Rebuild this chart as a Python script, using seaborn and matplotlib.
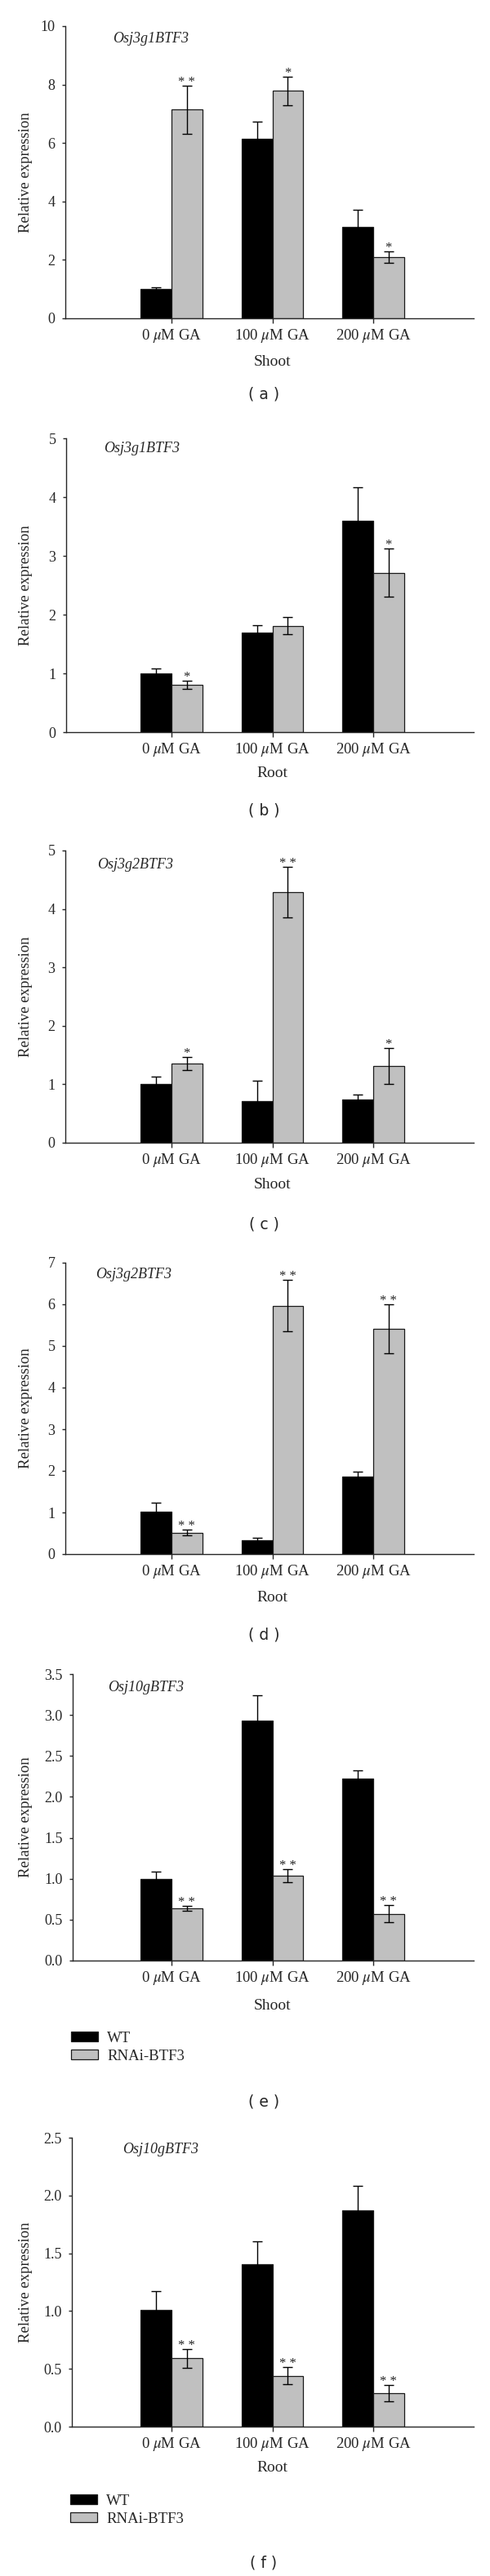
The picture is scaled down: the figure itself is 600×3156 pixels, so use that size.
import numpy as np
import pandas as pd
import matplotlib
matplotlib.use("Agg")
import matplotlib.pyplot as plt
import matplotlib.transforms as mtransforms
from matplotlib.patches import Patch
import seaborn as sns

# ---- data ----
doses = ["0 $\\mu$M GA", "100 $\\mu$M GA", "200 $\\mu$M GA"]
genotypes = ["WT", "RNAi-BTF3"]
genes = ["Osj3g1BTF3", "Osj3g1BTF3", "Osj3g2BTF3", "Osj3g2BTF3", "Osj10gBTF3", "Osj10gBTF3"]
tissues = ["Shoot", "Root", "Shoot", "Root", "Shoot", "Root"]
panel_tags = ["( a )", "( b )", "( c )", "( d )", "( e )", "( f )"]

a_wt = [1.0, 6.14, 3.12]
a_wt_err = [0.07, 0.6, 0.6]
a_rnai = [7.14, 7.78, 2.1]
a_rnai_err = [0.83, 0.5, 0.2]
a_sig = ["* *", "*", "*"]

b_wt = [1.0, 1.69, 3.6]
b_wt_err = [0.08, 0.13, 0.57]
b_rnai = [0.8, 1.81, 2.71]
b_rnai_err = [0.07, 0.15, 0.41]
b_sig = ["*", "", "*"]

c_wt = [1.01, 0.71, 0.74]
c_wt_err = [0.12, 0.35, 0.09]
c_rnai = [1.36, 4.29, 1.31]
c_rnai_err = [0.11, 0.43, 0.31]
c_sig = ["*", "* *", "*"]

d_wt = [1.01, 0.33, 1.87]
d_wt_err = [0.22, 0.07, 0.12]
d_rnai = [0.515, 5.97, 5.41]
d_rnai_err = [0.065, 0.61, 0.59]
d_sig = ["* *", "* *", "* *"]

e_wt = [1.0, 2.93, 2.22]
e_wt_err = [0.085, 0.31, 0.1]
e_rnai = [0.64, 1.04, 0.57]
e_rnai_err = [0.03, 0.08, 0.105]
e_sig = ["* *", "* *", "* *"]

f_wt = [1.01, 1.405, 1.87]
f_wt_err = [0.16, 0.2, 0.21]
f_rnai = [0.59, 0.44, 0.29]
f_rnai_err = [0.08, 0.075, 0.07]
f_sig = ["* *", "* *", "* *"]

yticks = [np.arange(0, 11, 2), np.arange(0, 6, 1), np.arange(0, 6, 1),
          np.arange(0, 8, 1), np.arange(0, 3.6, 0.5), np.arange(0, 2.6, 0.5)]

series = [
    (a_wt, a_wt_err, a_rnai, a_rnai_err, a_sig),
    (b_wt, b_wt_err, b_rnai, b_rnai_err, b_sig),
    (c_wt, c_wt_err, c_rnai, c_rnai_err, c_sig),
    (d_wt, d_wt_err, d_rnai, d_rnai_err, d_sig),
    (e_wt, e_wt_err, e_rnai, e_rnai_err, e_sig),
    (f_wt, f_wt_err, f_rnai, f_rnai_err, f_sig),
]

# ---- layout in image pixels (600 x 3156) ----
W, H = 600, 3156
RIGHT = 580
# left, top, bottom, gene label x/y, xlabel y, tag y
layout = [
    (80, 32, 390, 138, 48, 443, 483),
    (81, 537, 897, 127, 550, 947, 993),
    (80, 1042, 1400, 119, 1059, 1452, 1500),
    (80, 1547, 1904, 117, 1562, 1957, 2003),
    (89, 2051, 2402, 132, 2067, 2457, 2575),
    (88, 2619, 2973, 150, 2634, 3024, 3140),
]
legend_top = {4: 2489, 5: 3056}
GROUP0_PX = 210
GROUP_STEP = 123.5


def fx(px):
    return px / W


def fy(py):
    return 1 - py / H


sns.set_style("ticks")
plt.rcParams['font.family'] = ['Liberation Serif', 'DejaVu Serif']
plt.rcParams['mathtext.fontset'] = 'stix'
plt.rcParams['axes.linewidth'] = 1.0

fig = plt.figure(figsize=(W / 100, H / 100), dpi=100)

for i, (wt, wt_err, rn, rn_err, sig) in enumerate(series):
    left, top, bottom, gx, gy, xl_y, tag_y = layout[i]
    ax = fig.add_axes([fx(left), fy(bottom), fx(RIGHT - left), (bottom - top) / H])

    df = pd.DataFrame({
        "dose": doses * 2,
        "genotype": [genotypes[0]] * 3 + [genotypes[1]] * 3,
        "value": wt + rn,
        "err": wt_err + rn_err,
    })

    sns.barplot(data=df, x="dose", y="value", hue="genotype", order=doses,
                hue_order=genotypes, palette=["black", "#c0c0c0"], width=0.61,
                errorbar=None, legend=False, ax=ax, saturation=1)
    for p in ax.patches:
        p.set_edgecolor("#1a1a1a")
        p.set_linewidth(0.9)

    # error bars from the drawn bar positions
    bars = sorted(ax.patches, key=lambda p: p.get_x())
    df_sorted = df.assign(d_idx=[doses.index(d) for d in df["dose"]],
                          g_idx=[genotypes.index(g) for g in df["genotype"]])
    df_sorted = df_sorted.sort_values(["d_idx", "g_idx"]).reset_index(drop=True)
    xs = np.array([p.get_x() + p.get_width() / 2 for p in bars])
    ax.errorbar(xs, df_sorted["value"], yerr=df_sorted["err"], fmt="none",
                ecolor="black", elinewidth=1.0, capsize=4, capthick=1.0, zorder=5)

    # significance marks above RNAi bars
    rn_rows = df_sorted[df_sorted["g_idx"] == 1]
    for x, (_, row) in zip(xs[1::2], rn_rows.iterrows()):
        s = sig[int(row["d_idx"])]
        if s:
            ax.annotate(s, (x, row["value"] + row["err"]), xytext=(0, 0),
                        textcoords="offset points", ha="center", va="baseline",
                        fontsize=12)

    n_top = yticks[i][-1]
    ax.set_ylim(0, n_top)
    ax.set_yticks(yticks[i])
    if i >= 4:
        ax.set_yticklabels([f"{t:.1f}" for t in yticks[i]])
    xl0 = -(GROUP0_PX - left) / GROUP_STEP
    xl1 = (RIGHT - GROUP0_PX) / GROUP_STEP
    ax.set_xlim(xl0, xl1)

    sns.despine(ax=ax)
    ax.tick_params(axis="x", direction="out", length=4, width=1.0, pad=4,
                   labelsize=13.5)
    ax.tick_params(axis="y", direction="out", length=3, width=1.0, pad=6,
                   labelsize=13)

    ax.set_ylabel("Relative expression", fontsize=13.5, va="center")
    ax.yaxis.set_label_coords(fx(31 - left) / fx(RIGHT - left), 0.5)
    ax.set_xlabel(tissues[i], fontsize=14, va="center")
    trans = mtransforms.blended_transform_factory(ax.transData, ax.transAxes)
    ax.xaxis.set_label_coords(1, -(xl_y - bottom) / (bottom - top), transform=trans)

    fig.text(fx(gx), fy(gy), genes[i], fontsize=13, style="italic",
             ha="left", va="center")
    fig.text(fx(323), fy(tag_y), panel_tags[i], fontsize=13.5,
             family="DejaVu Sans", ha="center", va="center")

    if i in legend_top:
        handles = [Patch(facecolor="black", edgecolor="#1a1a1a", linewidth=0.9),
                   Patch(facecolor="#c0c0c0", edgecolor="#1a1a1a", linewidth=0.9)]
        fig.legend(handles, genotypes, loc="upper left",
                   bbox_to_anchor=(fx(left - 2), fy(legend_top[i])),
                   frameon=False, fontsize=13.5, handlelength=1.75,
                   handleheight=0.6, handletextpad=0.6, labelspacing=0.25,
                   borderpad=0, borderaxespad=0)

fig.savefig("out.png", dpi=100)
